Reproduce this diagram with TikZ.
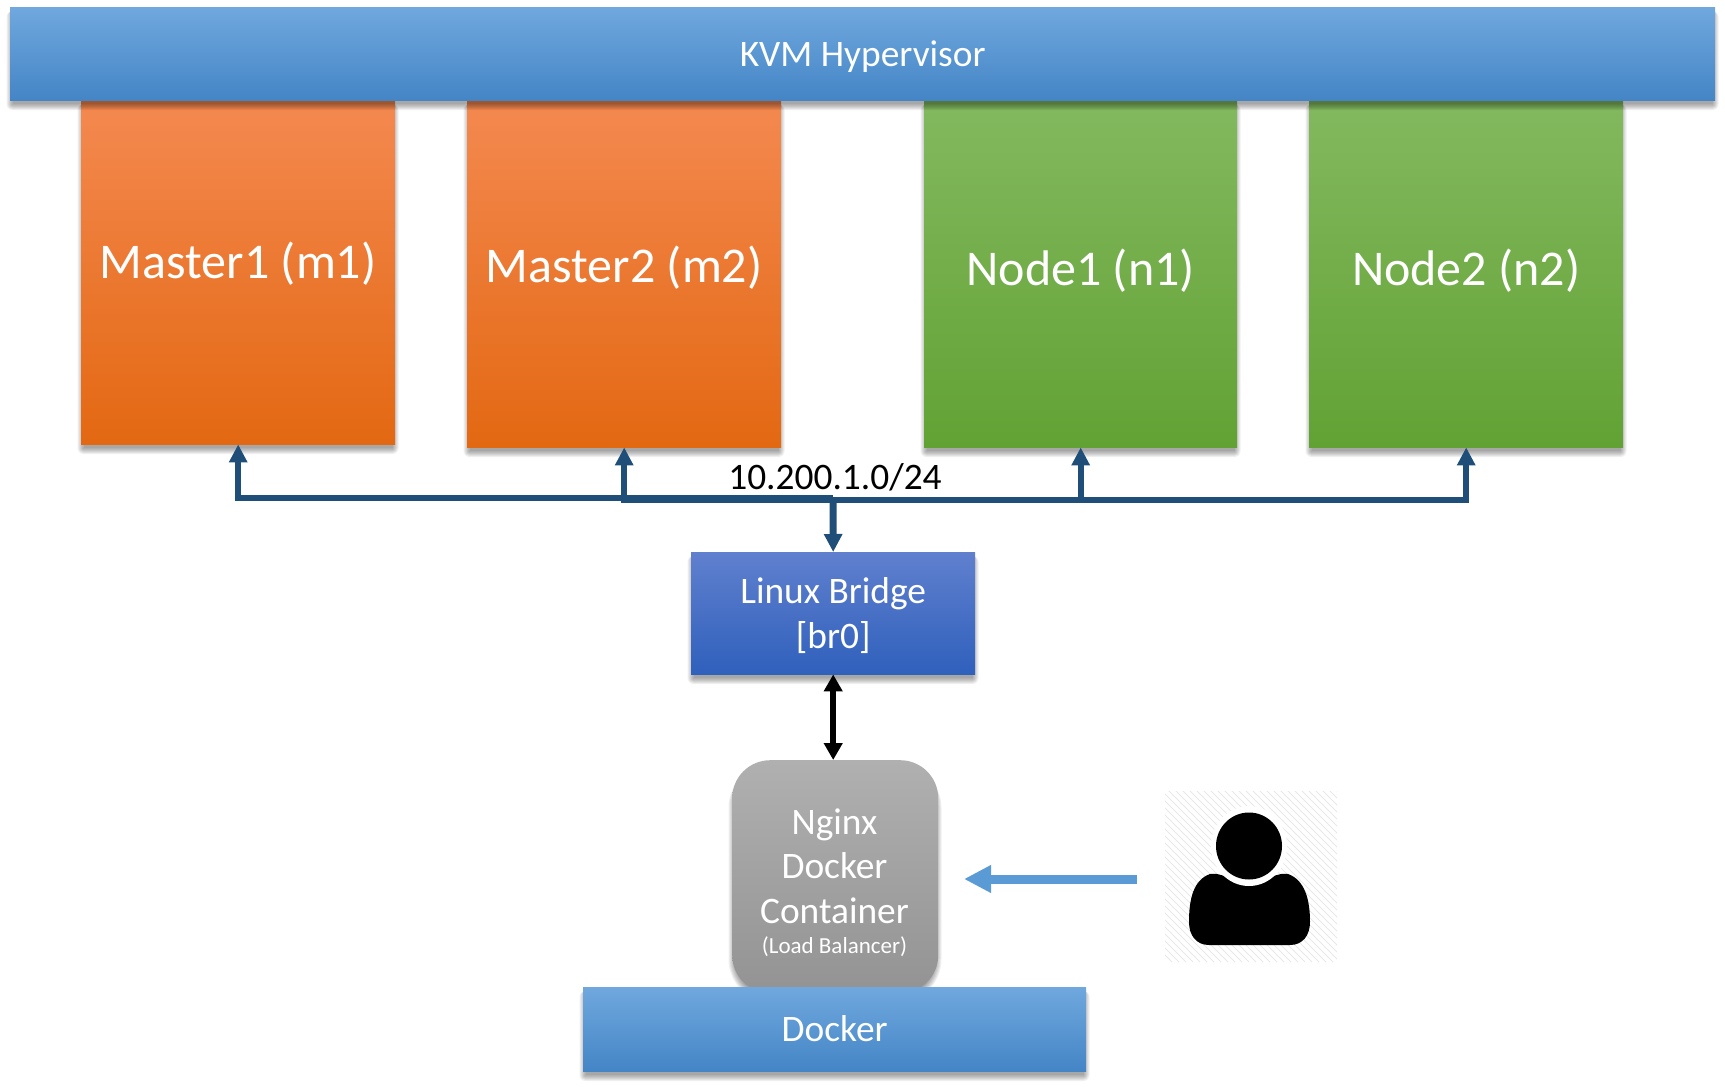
\documentclass[tikz,border=0pt]{standalone}
\usepackage{fontspec}
\setmainfont{Carlito}
\usetikzlibrary{arrows.meta}
\definecolor{bus}{HTML}{1F4E79}
\definecolor{userblue}{HTML}{5B9BD5}
\newcommand{\nudged}[2]{\raisebox{#1}[\height][\depth]{#2}}
% soft shadow of the box (x1,y1)-(x2,y2), offset downward, with corner radius #5
\newcommand{\softshadow}[5]{%
  \foreach \g in {6,5,4,3,2,1,0} {%
    \pgfmathsetmacro{\rad}{#5+\g}%
    \fill[black,opacity=.06,rounded corners=\rad pt]
      (#1-\g+2.5,#2+4) rectangle (#3+\g-2.5,#4+4+\g);
  }}
\tikzset{
  panel/.style={rectangle,anchor=north west,inner sep=0pt,text=white,align=center},
  bluebar/.style={panel,top color={rgb,255:red,112;green,168;blue,222},middle color={rgb,255:red,90;green,155;blue,220},bottom color={rgb,255:red,68;green,133;blue,198}},
  masterbox/.style={panel,top color={rgb,255:red,244;green,137;blue,80},middle color={rgb,255:red,244;green,123;blue,42},bottom color={rgb,255:red,227;green,104;blue,18},font=\fontsize{50}{58}\selectfont},
  workerbox/.style={panel,top color={rgb,255:red,131;green,185;blue,95},middle color={rgb,255:red,112;green,173;blue,66},bottom color={rgb,255:red,98;green,162;blue,52},font=\fontsize{50}{58}\selectfont},
  bridgebox/.style={panel,top color={rgb,255:red,96;green,128;blue,206},middle color={rgb,255:red,68;green,114;blue,202},bottom color={rgb,255:red,47;green,96;blue,188}},
  proxybox/.style={panel,rounded corners=38pt,top color={rgb,255:red,176;green,176;blue,176},bottom color={rgb,255:red,147;green,147;blue,147}},
  busarrow/.style={draw=bus,line width=6pt,-{Triangle[length=18pt,width=17.5pt]}},
  trunkarrow/.style={busarrow,line width=7pt},
  linkarrow/.style={draw=black,line width=6pt,{Triangle[length=17pt,width=18pt]}-{Triangle[length=17pt,width=18pt]}},
  userarrow/.style={draw=userblue,line width=9pt,-{Triangle[length=27pt,width=26pt]}},
  hatchline/.style={draw=black!9,line width=1pt},
}
\begin{document}
\begin{tikzpicture}[x=1pt,y=-1pt,font=\fontsize{37.4}{44.5}\selectfont]
\useasboundingbox (0,0) rectangle (1725,1087);
% guests
\softshadow{81}{100}{395}{444}{0}
\softshadow{467}{100}{781}{447}{0}
\softshadow{924}{100}{1237}{447}{0}
\softshadow{1309}{100}{1623}{447}{0}
\node[masterbox,minimum width=314pt,minimum height=344pt] (m1) at (81,100) {\nudged{8.4pt}{Master1 (m1)}};
\node[masterbox,minimum width=314pt,minimum height=347pt] (m2) at (467,100) {\nudged{6pt}{Master2 (m2)}};
\node[workerbox,minimum width=313pt,minimum height=347pt] (n1) at (924,100) {\nudged{3pt}{Node1 (n1)}};
\node[workerbox,minimum width=314pt,minimum height=347pt] (n2) at (1309,100) {\nudged{3pt}{Node2 (n2)}};
% hypervisor
\softshadow{10}{7}{1715}{100}{0}
\node[bluebar,minimum width=1705pt,minimum height=93pt] (kvm) at (10,7) {\nudged{-3.3pt}{KVM Hypervisor}};
% bridge
\softshadow{691}{552}{975}{674}{0}
\node[bridgebox,minimum width=284pt,minimum height=122pt] (br) at (691,552) {\nudged{-2.2pt}{Linux Bridge}\\\nudged{-2.3pt}{[br0]}};
% nginx
\softshadow{732}{760}{938}{993}{38}
\node[proxybox,minimum width=206pt,minimum height=233pt] (ngx) at (732,760) {};
\node[inner sep=0pt,text=white,align=center,anchor=north] (ngxt) at (834.5,808.5) {Nginx\\Docker\\Container\\[-14pt]{\fontsize{23}{27}\selectfont (Load Balancer)}};
% docker
\softshadow{583}{987}{1086}{1071}{0}
\node[bluebar,minimum width=503pt,minimum height=84pt] (dock) at (583,987) {\nudged{0.8pt}{Docker}};
% network label
\node[inner sep=0pt,text=black] (net) at (835,477) {10.200.1.0/24};
% bus
\coordinate (hubl) at (833,498);
\coordinate (hubr) at (833,500);
\draw[busarrow] (hubl) -| (m1.south);
\draw[busarrow] (hubr) -| (m2.south);
\draw[busarrow] (hubr) -| (n1.south);
\draw[busarrow] (hubr) -| (n2.south);
\draw[trunkarrow] (hubl) -- (br.north);
\draw[linkarrow] (br.south) -- (br.south |- ngx.north);
% user tile
\begin{scope}
\clip (1165,791) rectangle (1337,962);
\foreach \k in {0,7,...,350} {\draw[hatchline] (1165+\k,962) -- ++(-172,-172);}
\end{scope}
\coordinate (usertail) at (1137,879);
\coordinate (usertip) at (964,879);
\draw[userarrow] (usertail) -- (usertip);
\fill[black] (1209,945) -- (1290,945)
  .. controls (1303,945) and (1310,935) .. (1310,922)
  .. controls (1310,900) and (1305,880) .. (1288,874)
  .. controls (1280,872) and (1275,878) .. (1249,880)
  .. controls (1223,878) and (1218,872) .. (1210,874)
  .. controls (1193,880) and (1189,900) .. (1189,922)
  .. controls (1189,935) and (1196,945) .. (1209,945) -- cycle;
\fill[white] (1249,846) ellipse [x radius=38pt,y radius=40pt];
\fill[black] (1249,846) ellipse [x radius=33pt,y radius=33.5pt];
\end{tikzpicture}
\end{document}
